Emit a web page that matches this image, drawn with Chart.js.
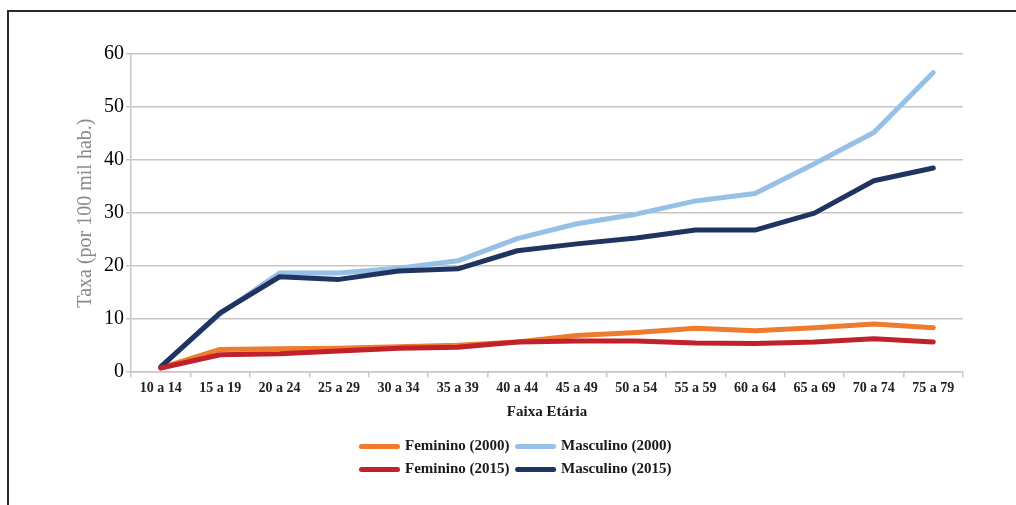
<!DOCTYPE html>
<html><head><meta charset="utf-8">
<script src="https://cdn.jsdelivr.net/npm/chart.js@4"></script>
<style>
html,body{margin:0;padding:0;background:#fff;overflow:hidden;width:1016px;height:505px;}
#frame{position:absolute;left:7px;top:10px;width:1300px;height:700px;border-top:2px solid #2a2a2a;border-left:2px solid #2a2a2a;}
#wrap{position:absolute;left:0;top:0;width:1016px;height:505px;}
</style></head><body>
<div id="frame"></div>
<div id="wrap"><canvas id="c"></canvas></div>
<script>
const categories = ["10 a 14","15 a 19","20 a 24","25 a 29","30 a 34","35 a 39","40 a 44","45 a 49","50 a 54","55 a 59","60 a 64","65 a 69","70 a 74","75 a 79"];
const feminino2000 = [0.8, 4.3, 4.4, 4.5, 4.8, 5.1, 5.7, 6.9, 7.5, 8.3, 7.8, 8.4, 9.1, 8.4];
const masculino2000 = [1.0, 11.0, 18.7, 18.7, 19.6, 21.0, 25.2, 28.0, 29.8, 32.3, 33.7, 39.3, 45.2, 56.5];
const feminino2015 = [0.8, 3.3, 3.5, 4.0, 4.5, 4.7, 5.7, 5.9, 5.9, 5.5, 5.4, 5.7, 6.3, 5.7];
const masculino2015 = [1.0, 11.2, 18.0, 17.5, 19.1, 19.5, 22.9, 24.2, 25.3, 26.8, 26.8, 30.0, 36.1, 38.5];
const yTicks = [0, 10, 20, 30, 40, 50, 60];

const SERIF = "'Liberation Serif', 'Times New Roman', serif";
const LEGEND_W = 400;

const legendTwoPerRow = {
  id: 'legendTwoPerRow',
  beforeLayout(chart) {
    const lg = chart.legend;
    if (!lg || lg._patched) return;
    const fit = lg.fit;
    lg.fit = function () {
      const full = this.maxWidth;
      this.maxWidth = LEGEND_W;
      fit.call(this);
      this.maxWidth = full;
      this.width = full;
    };
    lg._patched = true;
  },
  afterLayout(chart) {
    const lg = chart.legend;
    if (!lg) return;
    const c = (lg.left + lg.right) / 2;
    lg.left = c - LEGEND_W / 2;
    lg.right = c + LEGEND_W / 2;
    lg.width = LEGEND_W;
  }
};

function ds(label, data, color, order) {
  return {
    label, data, order,
    borderColor: color, backgroundColor: color,
    borderWidth: 5, pointRadius: 0, tension: 0,
    borderCapStyle: 'round', borderJoinStyle: 'round', fill: false
  };
}

new Chart(document.getElementById('c'), {
  type: 'line',
  data: {
    labels: categories,
    datasets: [
      ds('Feminino (2000)', feminino2000, '#ee7b2e', 2),
      ds('Masculino (2000)', masculino2000, '#97c0e6', 3),
      ds('Feminino (2015)', feminino2015, '#c0212b', 0),
      ds('Masculino (2015)', masculino2015, '#1f3461', 1)
    ]
  },
  options: {
    responsive: true,
    maintainAspectRatio: false,
    animation: false,
    layout: { padding: { left: 70, right: 53, top: 54, bottom: 18 } },
    plugins: {
      tooltip: { enabled: false },
      legend: {
        position: 'bottom',
        labels: {
          usePointStyle: true,
          pointStyle: 'line',
          pointStyleWidth: 36,
          padding: 8,
          color: '#1a1a1a',
          font: { family: SERIF, size: 15, weight: 'bold' },
          sort: (a, b) => a.datasetIndex - b.datasetIndex,
          generateLabels(chart) {
            const items = Chart.defaults.plugins.legend.labels.generateLabels(chart);
            items.forEach(it => { it.lineCap = 'round'; it.lineWidth = 5; });
            return items;
          }
        }
      }
    },
    scales: {
      x: {
        offset: true,
        grid: { display: true, offset: true, drawOnChartArea: false, tickLength: 5, color: '#c6c6c6', lineWidth: 1.5 },
        border: { display: true, color: '#c6c6c6', width: 1.5 },
        ticks: { padding: 3, color: '#222', maxRotation: 0, autoSkip: false, font: { family: SERIF, size: 14, weight: 'bold' } },
        title: { display: true, text: 'Faixa Etária', color: '#1a1a1a', padding: { top: 3, bottom: 10 }, font: { family: SERIF, size: 15, weight: 'bold' } }
      },
      y: {
        min: 0, max: 60,
        afterBuildTicks(axis) { axis.ticks = yTicks.map(v => ({ value: v })); },
        grid: { color: '#c6c6c6', lineWidth: 1.5, tickLength: 5 },
        border: { display: true, color: '#c6c6c6', width: 1.5 },
        ticks: { padding: 2, color: '#000', font: { family: SERIF, size: 20 } },
        title: { display: true, text: 'Taxa (por 100 mil hab.)', color: '#8a8a8a', padding: { top: 4, bottom: 4 }, font: { family: SERIF, size: 20 } }
      }
    }
  },
  plugins: [legendTwoPerRow]
});
</script>
</body></html>
